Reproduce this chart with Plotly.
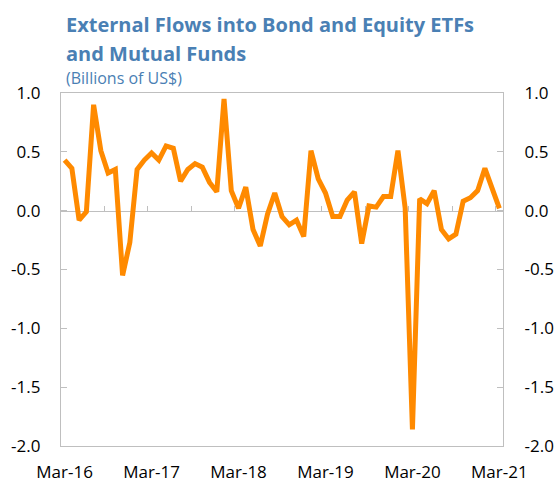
import pandas as pd
import plotly.graph_objects as go

# Monthly categories Mar-16 .. Mar-21
months = list(pd.date_range("2016-03-01", "2021-03-01", freq="MS").strftime("%b-%y"))

# External flows (billions of US$)
flows = [
    0.43, 0.36, -0.08, -0.01, 0.90, 0.51, 0.32, 0.35, -0.55, -0.27,
    0.35, 0.43, 0.49, 0.43, 0.55, 0.53, 0.25, 0.35, 0.40, 0.37,
    0.24, 0.16, 0.95, 0.17, 0.02, 0.20, -0.16, -0.30, -0.03, 0.15,
    -0.05, -0.12, -0.08, -0.22, 0.51, 0.27, 0.15, -0.05, -0.05, 0.09,
    0.16, -0.28, 0.04, 0.03, 0.12, 0.12, 0.51, 0.02, -1.86, 0.10,
    0.06, 0.17, -0.16, -0.24, -0.20, 0.08, 0.11, 0.17, 0.36, 0.20,
    0.02,
]

x_tick_labels = ["Mar-16", "Mar-17", "Mar-18", "Mar-19", "Mar-20", "Mar-21"]
y_ticks = [1.0, 0.5, 0.0, -0.5, -1.0, -1.5, -2.0]
y_tick_text = ["1.0", "0.5", "0.0", "-0.5", "-1.0", "-1.5", "-2.0"]

title_line1 = "External Flows into Bond and Equity ETFs"
title_line2 = "and Mutual Funds"
subtitle = "(Billions of US$)"

x = list(range(len(months)))
x_tickvals = [months.index(t) for t in x_tick_labels]
boundary_ticks = [i - 0.5 for i in range(6, len(months), 6)]
x_range = [-0.5, len(months) - 0.5]

GRAY = "#BFBFBF"
ORANGE = "#FF8A00"
BLUE = "#4A80B4"
FONT = "Open Sans"

fig = go.Figure()
fig.add_trace(go.Scatter(x=x, y=flows, mode="lines",
                         line=dict(color=ORANGE, width=5),
                         xaxis="x", yaxis="y", showlegend=False))
# ghost traces to activate secondary axes
fig.add_trace(go.Scatter(x=x, y=flows, mode="lines", opacity=0,
                         line=dict(width=0), xaxis="x", yaxis="y2",
                         hoverinfo="skip", showlegend=False))
fig.add_trace(go.Scatter(x=x, y=flows, mode="lines", opacity=0,
                         line=dict(width=0), xaxis="x2", yaxis="y",
                         hoverinfo="skip", showlegend=False))

fig.update_layout(
    width=557, height=485,
    margin=dict(l=61, r=54, t=93, b=39),
    paper_bgcolor="white", plot_bgcolor="white",
    font=dict(family=FONT, size=17, color="#000000"),
    showlegend=False,
    xaxis=dict(range=x_range, tickvals=x_tickvals, ticktext=x_tick_labels,
               ticks="", showline=True, linecolor=GRAY, linewidth=1.3,
               mirror=True, showgrid=False, zeroline=False, automargin=False,
               ticklabelstandoff=10, layer="below traces"),
    xaxis2=dict(range=x_range, overlaying="x", anchor="free",
                position=2 / 3, side="top", tickvals=boundary_ticks,
                ticks="outside", ticklen=5, tickcolor=GRAY, tickwidth=1.3,
                showticklabels=False, showline=True, linecolor=GRAY,
                linewidth=1.3, showgrid=False, zeroline=False, automargin=False,
                layer="below traces"),
    yaxis=dict(range=[-2, 1], tickvals=y_ticks, ticktext=y_tick_text,
               ticks="inside", ticklen=6, tickcolor=GRAY, tickwidth=1.3,
               showline=True, linecolor=GRAY, linewidth=1.3, automargin=False,
               showgrid=False, zeroline=False, ticklabelstandoff=16,
               layer="below traces"),
    yaxis2=dict(range=[-2, 1], overlaying="y", side="right", anchor="x",
                tickvals=y_ticks, ticktext=y_tick_text,
                ticks="inside", ticklen=6, tickcolor=GRAY, tickwidth=1.3,
                showline=True, linecolor=GRAY, linewidth=1.3, automargin=False,
                showgrid=False, zeroline=False, ticklabelstandoff=17,
                layer="below traces"),
)

fig.add_annotation(text=title_line1, xref="paper", yref="paper",
                   x=0.006, y=(446 - 24) / 353, xanchor="left", yanchor="middle",
                   showarrow=False,
                   font=dict(family=FONT, size=20, color=BLUE, weight="bold"))
fig.add_annotation(text=title_line2, xref="paper", yref="paper",
                   x=0.006, y=(446 - 54) / 353, xanchor="left", yanchor="middle",
                   showarrow=False,
                   font=dict(family=FONT, size=20, color=BLUE, weight="bold"))
fig.add_annotation(text=subtitle, xref="paper", yref="paper",
                   x=0.006, y=(446 - 78) / 353, xanchor="left", yanchor="middle",
                   showarrow=False,
                   font=dict(family=FONT, size=16, color=BLUE))

fig.write_html("out.html", config={"displayModeBar": False},
               post_script="document.body.style.margin='0';")
